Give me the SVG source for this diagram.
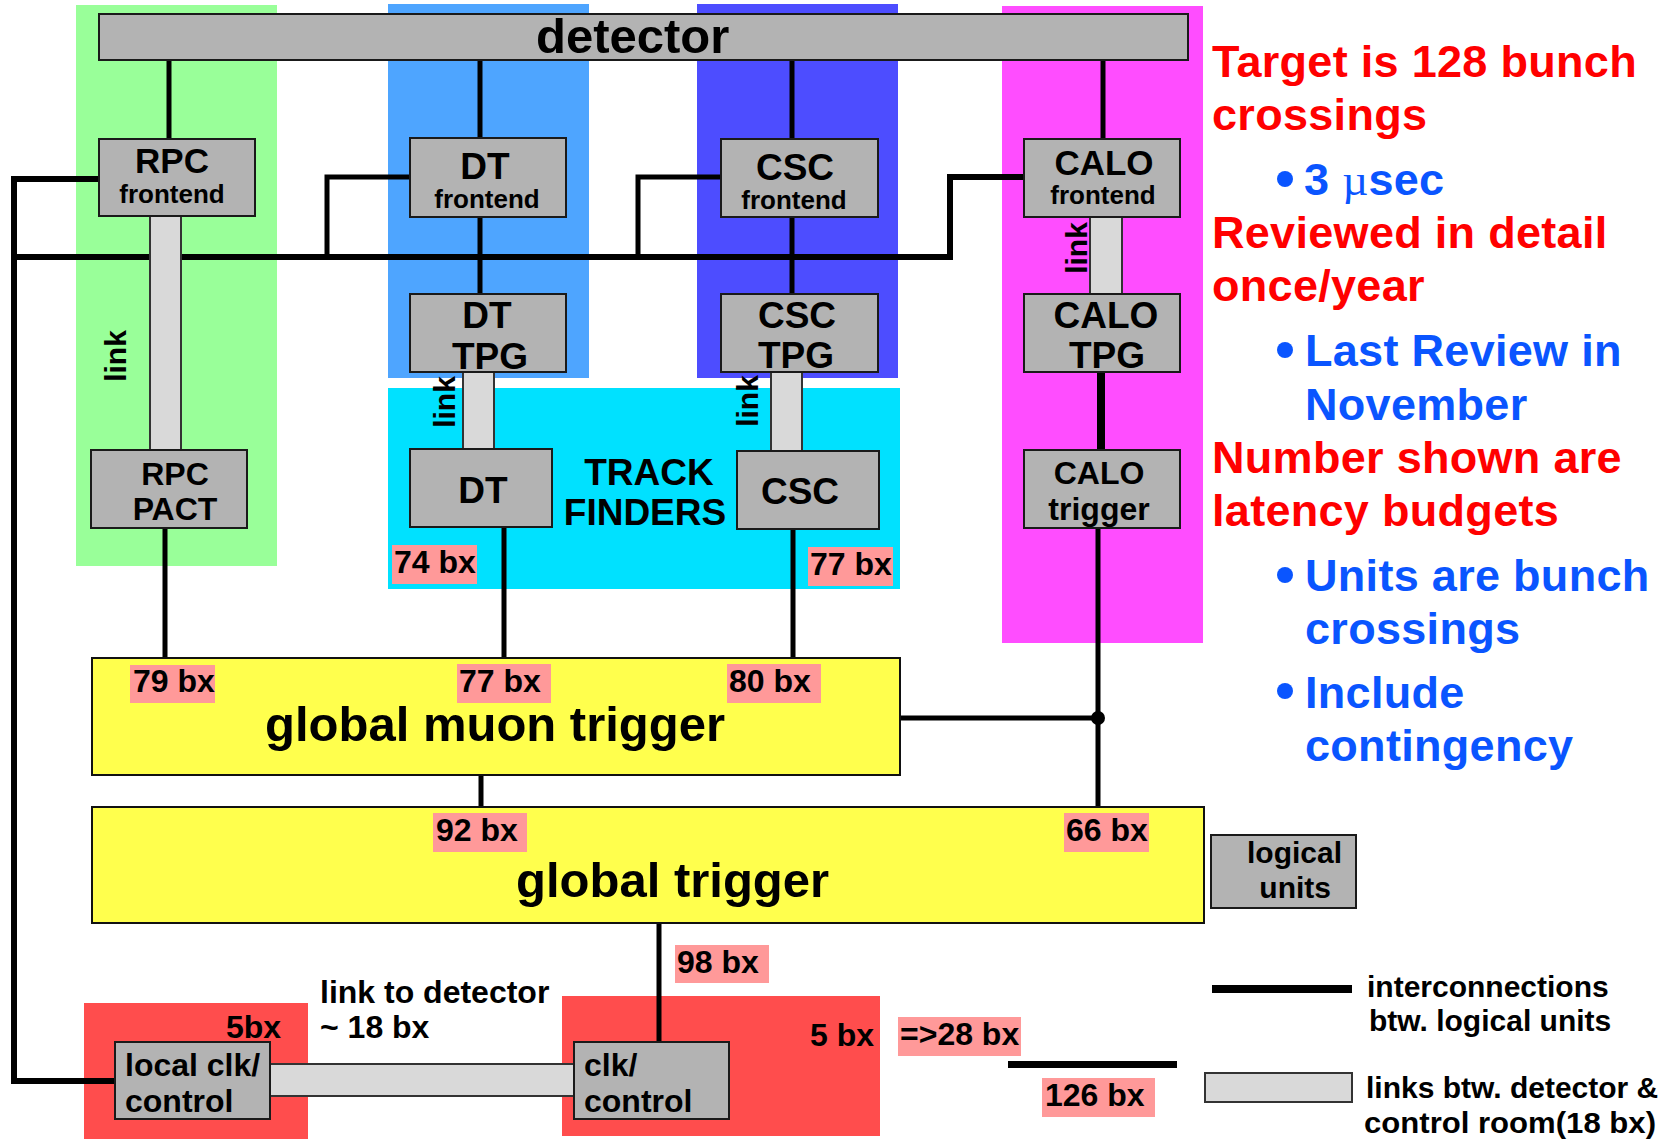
<svg xmlns="http://www.w3.org/2000/svg" width="1675" height="1139" viewBox="0 0 1675 1139">
  <style>
    text { font-family: "Liberation Sans", Arial, sans-serif; font-weight: bold; fill: #000; }
    .unit { fill: #b3b3b3; stroke: #1a1a1a; stroke-width: 2; }
    .big { fill: #ffff4d; stroke: #111; stroke-width: 2; }
    .link { fill: #d9d9d9; stroke: #333; stroke-width: 2; }
    .bx { fill: #ff9999; }
    .wire { fill: none; stroke: #000; stroke-width: 5; stroke-linecap: butt; }
    .f37 { font-size: 37px; }
    .f35 { font-size: 35px; }
    .f32 { font-size: 32px; }
    .f26 { font-size: 26px; }
    .f30 { font-size: 30px; }
    .f49 { font-size: 49px; }
    .mid { text-anchor: middle; }
    .red { fill: #ff0000; font-size: 45px; letter-spacing: 0.3px; }
    .blue { fill: #0a55ff; font-size: 45px; letter-spacing: 0.3px; }
  </style>

  <!-- subsystem shading -->
  <g id="regions">
    <rect x="76" y="5" width="201" height="561" fill="#99ff99"/>
    <rect x="388" y="4" width="201" height="374" fill="#4ea5ff"/>
    <rect x="697" y="4" width="201" height="374" fill="#4d4dff"/>
    <rect x="1002" y="6" width="201" height="637" fill="#ff4dff"/>
    <rect x="388" y="388" width="512" height="201" fill="#00e1ff"/>
    <rect x="84" y="1003" width="224" height="136" fill="#ff4d4d"/>
    <rect x="562" y="996" width="318" height="140" fill="#ff4d4d"/>
  </g>

  <!-- interconnections between logical units -->
  <g id="connectors">
    <line class="wire" x1="169" y1="60" x2="169" y2="139"/>
    <line class="wire" x1="480" y1="60" x2="480" y2="138"/>
    <line class="wire" x1="792" y1="60" x2="792" y2="139"/>
    <line class="wire" x1="1103" y1="60" x2="1103" y2="139"/>
    <line class="wire" x1="480" y1="217" x2="480" y2="294"/>
    <line class="wire" x1="792" y1="217" x2="792" y2="294"/>
    <line class="wire" x1="1101" y1="372" x2="1101" y2="450" style="stroke-width:8"/>
    <!-- clock / control bus -->
    <polyline class="wire" points="99,179 14,179 14,1081 115,1081" style="stroke-width:6"/>
    <polyline class="wire" points="14,257 950,257 950,177 1024,177" style="stroke-width:6"/>
    <polyline class="wire" points="327,257 327,177 410,177"/>
    <polyline class="wire" points="638,257 638,177 721,177"/>
    <!-- trigger data path -->
    <line class="wire" x1="165" y1="528" x2="165" y2="658"/>
    <line class="wire" x1="504" y1="527" x2="504" y2="658"/>
    <line class="wire" x1="793" y1="529" x2="793" y2="658"/>
    <line class="wire" x1="1098" y1="528" x2="1098" y2="807"/>
    <line class="wire" x1="900" y1="718" x2="1098" y2="718"/>
    <circle cx="1098" cy="718" r="7" fill="#000"/>
    <line class="wire" x1="481" y1="775" x2="481" y2="807"/>
    <line class="wire" x1="659" y1="923" x2="659" y2="1043"/>
    <!-- detector links -->
    <rect class="link" x="150" y="216" width="31" height="234"/>
    <rect class="link" x="463" y="372" width="31" height="77"/>
    <rect class="link" x="771" y="372" width="31" height="79"/>
    <rect class="link" x="1090" y="217" width="32" height="77"/>
    <rect class="link" x="270" y="1064" width="304" height="32"/>
    <text class="f30" transform="translate(126,356) rotate(-90)" text-anchor="middle">link</text>
    <text class="f30" transform="translate(455,402) rotate(-90)" text-anchor="middle">link</text>
    <text class="f30" transform="translate(758,401) rotate(-90)" text-anchor="middle">link</text>
    <text class="f30" transform="translate(1087,248) rotate(-90)" text-anchor="middle">link</text>
  </g>

  <g id="detector">
    <rect class="unit" x="99" y="14" width="1089" height="46"/>
    <text class="f49" x="536" y="53">detector</text>
  </g>

  <g id="rpc-frontend">
    <rect class="unit" x="99" y="139" width="156" height="77"/>
    <text class="f35 mid" x="172" y="173">RPC</text>
    <text class="f26 mid" x="172" y="203">frontend</text>
  </g>
  <g id="dt-frontend">
    <rect class="unit" x="410" y="138" width="156" height="79"/>
    <text class="f37 mid" x="485" y="179">DT</text>
    <text class="f26 mid" x="487" y="208">frontend</text>
  </g>
  <g id="csc-frontend">
    <rect class="unit" x="721" y="139" width="157" height="78"/>
    <text class="f37 mid" x="795" y="180">CSC</text>
    <text class="f26 mid" x="794" y="209">frontend</text>
  </g>
  <g id="calo-frontend">
    <rect class="unit" x="1024" y="139" width="156" height="78"/>
    <text class="f35 mid" x="1104" y="175">CALO</text>
    <text class="f26 mid" x="1103" y="204">frontend</text>
  </g>

  <g id="dt-tpg">
    <rect class="unit" x="410" y="294" width="156" height="78"/>
    <text class="f37 mid" x="487" y="328">DT</text>
    <text class="f37 mid" x="490" y="369">TPG</text>
  </g>
  <g id="csc-tpg">
    <rect class="unit" x="721" y="294" width="157" height="78"/>
    <text class="f37 mid" x="797" y="328">CSC</text>
    <text class="f37 mid" x="796" y="368">TPG</text>
  </g>
  <g id="calo-tpg">
    <rect class="unit" x="1024" y="294" width="156" height="78"/>
    <text class="f37 mid" x="1106" y="328">CALO</text>
    <text class="f37 mid" x="1107" y="368">TPG</text>
  </g>

  <g id="rpc-pact">
    <rect class="unit" x="91" y="450" width="156" height="78"/>
    <text class="f32 mid" x="175" y="485">RPC</text>
    <text class="f32 mid" x="175" y="520">PACT</text>
  </g>
  <g id="track-finders">
    <text class="f37 mid" x="649" y="485">TRACK</text>
    <text class="f37 mid" x="645" y="525">FINDERS</text>
  </g>
  <g id="dt-track-finder">
    <rect class="unit" x="410" y="449" width="142" height="78"/>
    <text class="f37 mid" x="483" y="503">DT</text>
  </g>
  <g id="csc-track-finder">
    <rect class="unit" x="737" y="451" width="142" height="78"/>
    <text class="f37 mid" x="800" y="504">CSC</text>
  </g>
  <g id="calo-trigger">
    <rect class="unit" x="1024" y="450" width="156" height="78"/>
    <text class="f32 mid" x="1099" y="484">CALO</text>
    <text class="f32 mid" x="1099" y="520">trigger</text>
  </g>

  <g id="global-muon-trigger">
    <rect class="big" x="92" y="658" width="808" height="117"/>
    <text class="f49" x="265" y="741">global muon trigger</text>
  </g>
  <g id="global-trigger">
    <rect class="big" x="92" y="807" width="1112" height="116"/>
    <text class="f49" x="516" y="897">global trigger</text>
  </g>

  <g id="local-clk-control">
    <rect class="unit" x="115" y="1042" width="155" height="77"/>
    <text class="f32" x="125" y="1076">local clk/</text>
    <text class="f32" x="125" y="1112">control</text>
  </g>
  <g id="clk-control">
    <rect class="unit" x="574" y="1042" width="155" height="77"/>
    <text class="f32" x="584" y="1076">clk/</text>
    <text class="f32" x="584" y="1112">control</text>
  </g>

  <!-- latency budgets -->
  <g id="latencies">
    <rect class="bx" x="392" y="545" width="85" height="39"/>
    <text class="f32" x="394" y="573">74 bx</text>
    <rect class="bx" x="808" y="547" width="85" height="39"/>
    <text class="f32" x="810" y="575">77 bx</text>
    <rect class="bx" x="130" y="665" width="85" height="38"/>
    <text class="f32" x="133" y="692">79 bx</text>
    <rect class="bx" x="457" y="664" width="94" height="39"/>
    <text class="f32" x="459" y="692">77 bx</text>
    <rect class="bx" x="727" y="664" width="94" height="39"/>
    <text class="f32" x="729" y="692">80 bx</text>
    <rect class="bx" x="433" y="813" width="94" height="39"/>
    <text class="f32" x="436" y="841">92 bx</text>
    <rect class="bx" x="1064" y="813" width="85" height="39"/>
    <text class="f32" x="1066" y="841">66 bx</text>
    <rect class="bx" x="675" y="945" width="94" height="38"/>
    <text class="f32" x="677" y="973">98 bx</text>
    <rect class="bx" x="898" y="1017" width="123" height="39"/>
    <text class="f32" x="900" y="1045">=&gt;28 bx</text>
    <rect class="bx" x="1042" y="1078" width="113" height="39"/>
    <text class="f32" x="1045" y="1106">126 bx</text>
    <line x1="1008" y1="1064.5" x2="1177" y2="1064.5" stroke="#000" stroke-width="7"/>
    <text class="f32" x="226" y="1038">5bx</text>
    <text class="f32" x="320" y="1003">link to detector</text>
    <text class="f32" x="320" y="1038">~ 18 bx</text>
    <text class="f32" x="810" y="1046">5 bx</text>
  </g>

  <!-- legend -->
  <g id="legend">
    <rect class="unit" x="1211" y="835" width="145" height="73"/>
    <text class="f30" x="1342" y="863" text-anchor="end">logical</text>
    <text class="f30" x="1331" y="898" text-anchor="end">units</text>
    <line x1="1212" y1="989" x2="1352" y2="989" stroke="#000" stroke-width="8"/>
    <text class="f30" x="1367" y="997">interconnections</text>
    <text class="f30" x="1369" y="1031">btw. logical units</text>
    <rect class="link" x="1205" y="1073" width="147" height="29"/>
    <text class="f30" x="1366" y="1098">links btw. detector &amp;</text>
    <text class="f30" x="1364" y="1133" textLength="292" lengthAdjust="spacingAndGlyphs">control room(18 bx)</text>
  </g>

  <!-- notes -->
  <g id="notes">
    <text class="red" x="1212" y="77">Target is 128 bunch</text>
    <text class="red" x="1212" y="130">crossings</text>
    <circle cx="1285" cy="179" r="8" fill="#0a55ff"/>
    <text class="blue" x="1304" y="195">3 <tspan style="font-family:'Liberation Serif',serif;font-weight:normal">µ</tspan>sec</text>
    <text class="red" x="1212" y="248">Reviewed in detail</text>
    <text class="red" x="1212" y="301">once/year</text>
    <circle cx="1285" cy="350" r="8" fill="#0a55ff"/>
    <text class="blue" x="1305" y="366">Last Review in</text>
    <text class="blue" x="1305" y="420">November</text>
    <text class="red" x="1212" y="473">Number shown are</text>
    <text class="red" x="1212" y="526">latency budgets</text>
    <circle cx="1285" cy="575" r="8" fill="#0a55ff"/>
    <text class="blue" x="1305" y="591">Units are bunch</text>
    <text class="blue" x="1305" y="644">crossings</text>
    <circle cx="1285" cy="691" r="8" fill="#0a55ff"/>
    <text class="blue" x="1305" y="708">Include</text>
    <text class="blue" x="1305" y="761">contingency</text>
  </g>
</svg>
